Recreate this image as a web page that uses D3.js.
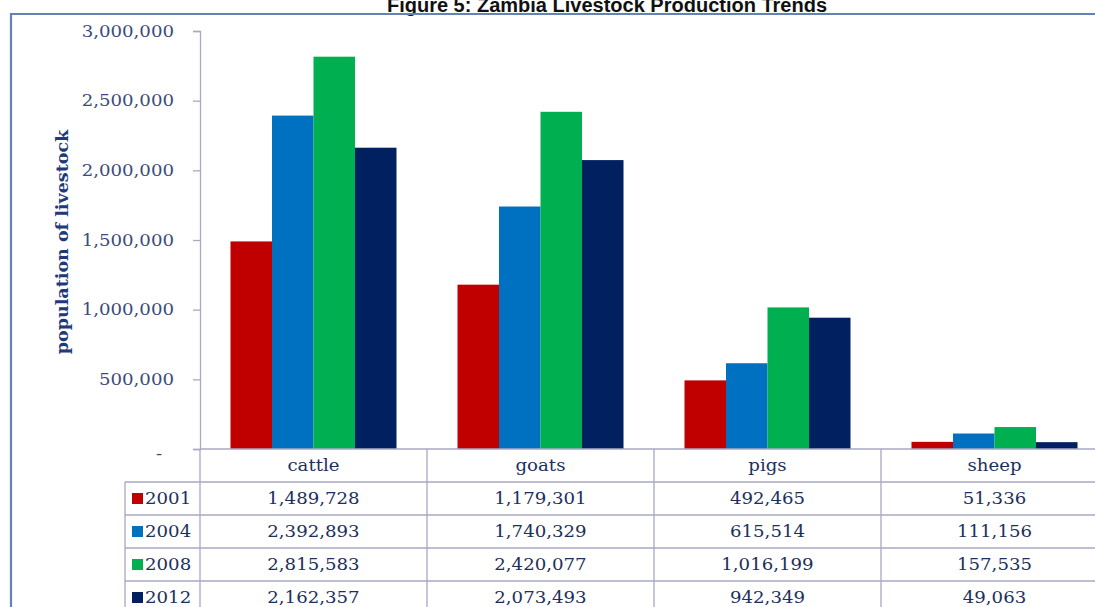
<!DOCTYPE html>
<html>
<head>
<meta charset="utf-8">
<script src="https://cdn.jsdelivr.net/npm/d3@7"></script>
<style>
  html, body { margin: 0; padding: 0; background: #ffffff; overflow: hidden; }
  svg { display: block; }
</style>
</head>
<body>
<svg id="chart" width="1095" height="607"></svg>
<script>
// Livestock population by census year
const categories = ["cattle", "goats", "pigs", "sheep"];
const years = ["2001", "2004", "2008", "2012"];
const values2001 = [1489728, 1179301, 492465, 51336];
const values2004 = [2392893, 1740329, 615514, 111156];
const values2008 = [2815583, 2420077, 1016199, 157535];
const values2012 = [2162357, 2073493, 942349, 49063];
const yTicks = [0, 500000, 1000000, 1500000, 2000000, 2500000, 3000000];
const seriesColors = ["#C00000", "#0070C0", "#00B050", "#002060"];

const seriesValues = [values2001, values2004, values2008, values2012];

const svg = d3.select("#chart");
const W = 1095, H = 607;

const plotLeft = 200, plotRight = 1108, plotTop = 31, plotBottom = 449;
const rowH = 33;
const legendLeft = 125;

const gridColor = "#A8A8C4";
const tickTextColor = "#3A4B7C";
const tableTextColor = "#1C305C";
const serif = "'DejaVu Serif', 'Liberation Serif', serif";
const labelSize = 16.5;
const widen = 1.1; // the serif labels are set a little wider than the font's natural width

// widen a text selection horizontally while keeping its anchor
function stretch(sel) {
  sel.each(function () {
    const len = this.getComputedTextLength();
    d3.select(this).attr("textLength", len * widen).attr("lengthAdjust", "spacingAndGlyphs");
  });
}

// scales
const x0 = d3.scaleBand().domain(categories).range([plotLeft, plotRight]).paddingInner(0).paddingOuter(0);
const x1 = d3.scaleBand().domain(years).range([0, x0.bandwidth()]).paddingInner(0).paddingOuter(0.735);
const y = d3.scaleLinear().domain([0, 3000000]).range([plotBottom, plotTop]);

// title (runs into the top edge of the page)
svg.append("text")
  .attr("x", 607).attr("y", 12)
  .attr("text-anchor", "middle")
  .attr("font-family", "'Liberation Sans', Arial, sans-serif")
  .attr("font-weight", "bold")
  .attr("font-size", 20)
  .attr("fill", "#111")
  .text("Figure 5: Zambia Livestock Production Trends");

// outer frame
svg.append("path")
  .attr("d", `M11,${H + 5} L11,14 L${W + 5},14`)
  .attr("fill", "none")
  .attr("stroke", "#6482B4")
  .attr("stroke-width", 2.2);

// bars
const groups = svg.append("g").selectAll("g")
  .data(years)
  .join("g")
  .attr("fill", (d, i) => seriesColors[i]);

groups.selectAll("rect")
  .data((yr, i) => categories.map((c, j) => ({ cat: c, year: yr, value: seriesValues[i][j] })))
  .join("rect")
  .attr("x", d => x0(d.cat) + x1(d.year))
  .attr("width", x1.bandwidth())
  .attr("y", d => y(d.value))
  .attr("height", d => y(0) - y(d.value));

// y axis
const fmt = d3.format(",");
const yAxis = svg.append("g")
  .attr("transform", `translate(${plotLeft},0)`)
  .call(d3.axisLeft(y).tickValues(yTicks).tickSize(7).tickPadding(19)
    .tickFormat(d => d === 0 ? "-" : fmt(d)));
yAxis.select(".domain").attr("stroke", gridColor).attr("stroke-width", 1.3);
yAxis.selectAll(".tick line").attr("stroke", gridColor).attr("stroke-width", 1.3);
yAxis.selectAll(".tick text")
  .attr("font-family", serif)
  .attr("font-size", labelSize)
  .attr("fill", tickTextColor)
  .attr("dx", d => d === 0 ? -12 : 0)
  .attr("dy", d => d === 0 ? "0.55em" : "0.32em")
  .call(stretch);

// y axis title
svg.append("text")
  .attr("transform", `translate(68,${242}) rotate(-90)`)
  .attr("text-anchor", "middle")
  .attr("font-family", serif)
  .attr("font-weight", "bold")
  .attr("font-size", 17.5)
  .attr("fill", "#1F3A78")
  .text("population of livestock");

// data table under the plot
const table = svg.append("g").attr("class", "data-table");
const tableBottom = plotBottom + rowH * (years.length + 1);

// horizontal rules
table.append("line")
  .attr("x1", plotLeft).attr("x2", plotRight)
  .attr("y1", plotBottom).attr("y2", plotBottom)
  .attr("stroke", gridColor).attr("stroke-width", 1.3);
d3.range(1, years.length + 2).forEach(r => {
  table.append("line")
    .attr("x1", legendLeft).attr("x2", plotRight)
    .attr("y1", plotBottom + r * rowH).attr("y2", plotBottom + r * rowH)
    .attr("stroke", gridColor).attr("stroke-width", 1.3);
});

// vertical rules
table.append("line")
  .attr("x1", legendLeft).attr("x2", legendLeft)
  .attr("y1", plotBottom + rowH).attr("y2", tableBottom)
  .attr("stroke", gridColor).attr("stroke-width", 1.3);
categories.forEach(c => {
  table.append("line")
    .attr("x1", x0(c)).attr("x2", x0(c))
    .attr("y1", plotBottom).attr("y2", tableBottom)
    .attr("stroke", gridColor).attr("stroke-width", 1.3);
});

// category header
table.selectAll("text.cat")
  .data(categories)
  .join("text")
  .attr("class", "cat")
  .attr("x", d => x0(d) + x0.bandwidth() / 2)
  .attr("y", plotBottom + rowH / 2)
  .attr("dy", "0.35em")
  .attr("text-anchor", "middle")
  .attr("font-family", serif)
  .attr("font-size", labelSize)
  .attr("fill", tableTextColor)
  .text(d => d)
  .call(stretch);

// rows: legend key + values
years.forEach((yr, i) => {
  const cy = plotBottom + rowH * (i + 1) + rowH / 2;
  table.append("rect")
    .attr("x", 132).attr("y", cy - 5.5)
    .attr("width", 11).attr("height", 11)
    .attr("fill", seriesColors[i]);
  table.append("text")
    .attr("x", 145).attr("y", cy)
    .attr("dy", "0.35em")
    .attr("font-family", serif)
    .attr("font-size", labelSize)
    .attr("fill", tableTextColor)
    .text(yr)
    .call(stretch);
  table.selectAll(null)
    .data(categories.map((c, j) => ({ cat: c, value: seriesValues[i][j] })))
    .join("text")
    .attr("x", d => x0(d.cat) + x0.bandwidth() / 2)
    .attr("y", cy)
    .attr("dy", "0.35em")
    .attr("text-anchor", "middle")
    .attr("font-family", serif)
    .attr("font-size", labelSize)
    .attr("fill", tableTextColor)
    .text(d => fmt(d.value))
    .call(stretch);
});
</script>
</body>
</html>
